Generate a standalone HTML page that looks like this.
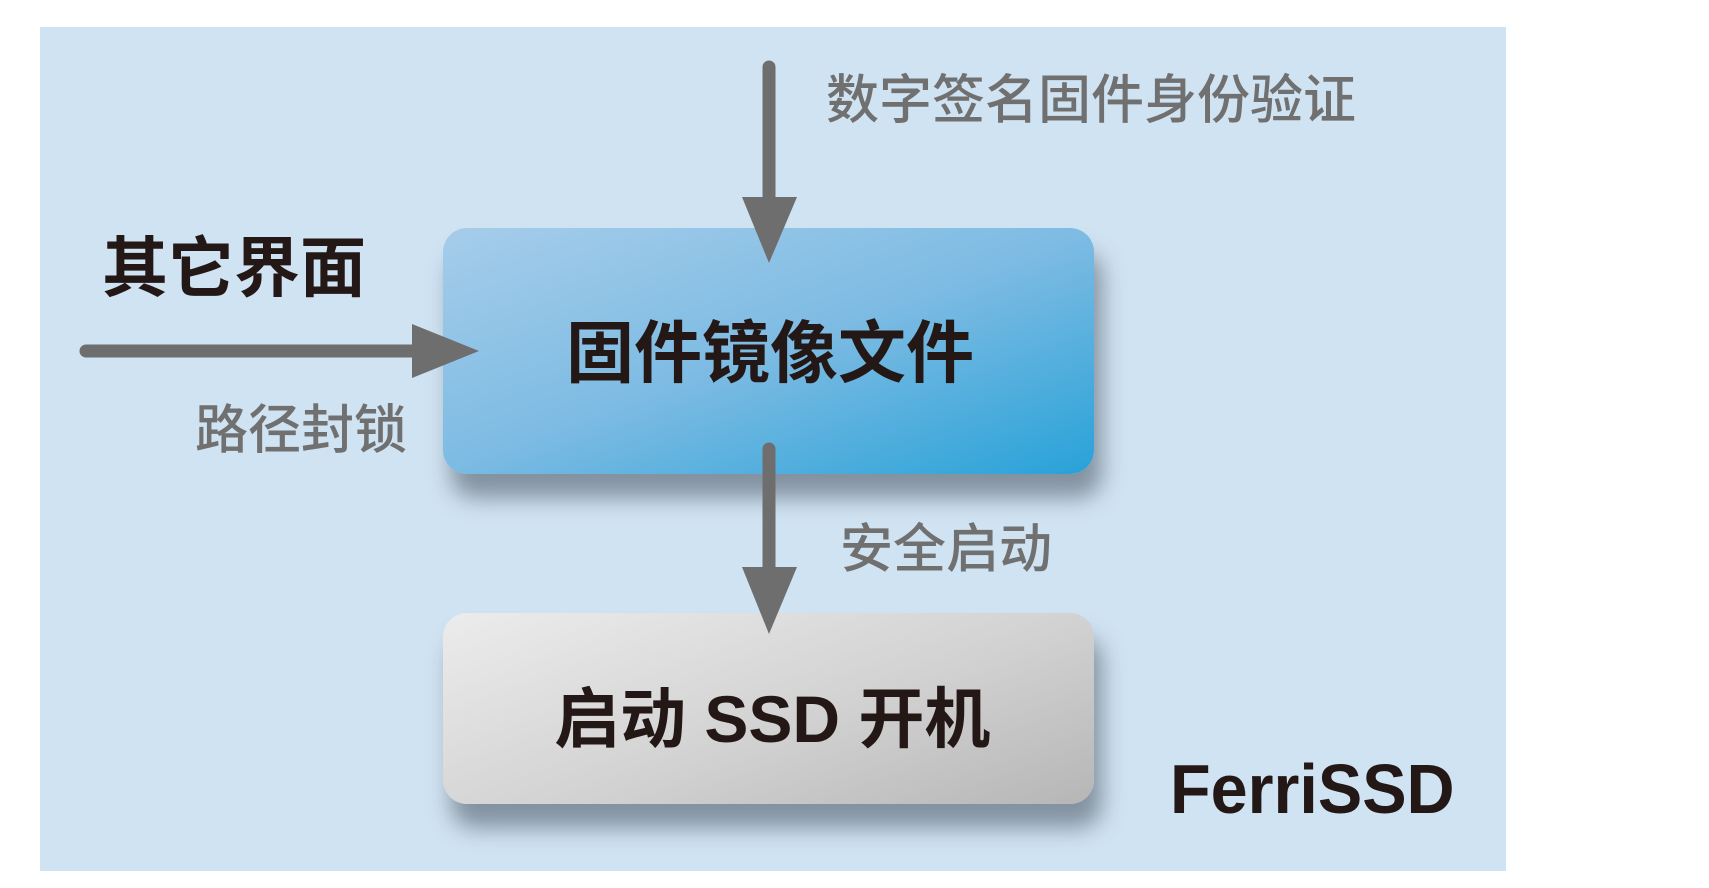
<!DOCTYPE html>
<html><head><meta charset="utf-8"><style>
body{margin:0;width:1709px;height:888px;background:#fff;position:relative;overflow:hidden;font-family:"Liberation Sans","Noto Sans CJK SC",sans-serif}
.panel{position:absolute;left:40px;top:27px;width:1466px;height:844px;background:#d0e3f2}
.box{position:absolute;left:443px;width:651px;border-radius:24px;box-shadow:8px 24px 22px rgba(70,80,95,.55)}
.b1{top:228px;height:246px;background:linear-gradient(160deg,#a6cdea 0%,#7dbbe3 50%,#28a2d8 100%)}
.b2{top:613px;height:191px;background:linear-gradient(160deg,#ececec 0%,#d2d2d2 55%,#b6b6b6 100%)}
.t{position:absolute;white-space:nowrap;line-height:1}
.g{color:#707070;font-size:53px;font-weight:500}
.k{color:#231816;font-weight:700;font-size:66px}
svg{position:absolute;left:0;top:0}
</style></head><body>
<div class="panel"></div>
<div class="box b1"></div>
<div class="box b2"></div>
<svg width="1709" height="888">
<g fill="#6e6e6e" stroke="#6e6e6e" stroke-linecap="round">
<line x1="769" y1="67" x2="769" y2="205" stroke-width="13"/>
<polygon points="742,197 797,197 769,263" stroke="none"/>
<line x1="86" y1="351" x2="420" y2="351" stroke-width="13"/>
<polygon points="412,324 479,351 412,378" stroke="none"/>
<line x1="769" y1="449" x2="769" y2="575" stroke-width="13"/>
<polygon points="742,567 797,567 769,634" stroke="none"/>
</g></svg>
<div class="t g" style="left:826px;top:74px;">数字签名固件身份验证</div>
<div class="t k" style="left:102px;top:235px;">其它界面</div>
<div class="t g" style="left:195px;top:404px;">路径封锁</div>
<div class="t k" style="left:566px;top:320px;font-size:68px">固件镜像文件</div>
<div class="t g" style="left:840px;top:523px;">安全启动</div>
<div class="t k" style="left:554px;top:686px;">启动 SSD 开机</div>
<div class="t k" style="left:1170px;top:754px;font-size:70px;transform:scaleX(0.95);transform-origin:left">FerriSSD</div>
</body></html>
